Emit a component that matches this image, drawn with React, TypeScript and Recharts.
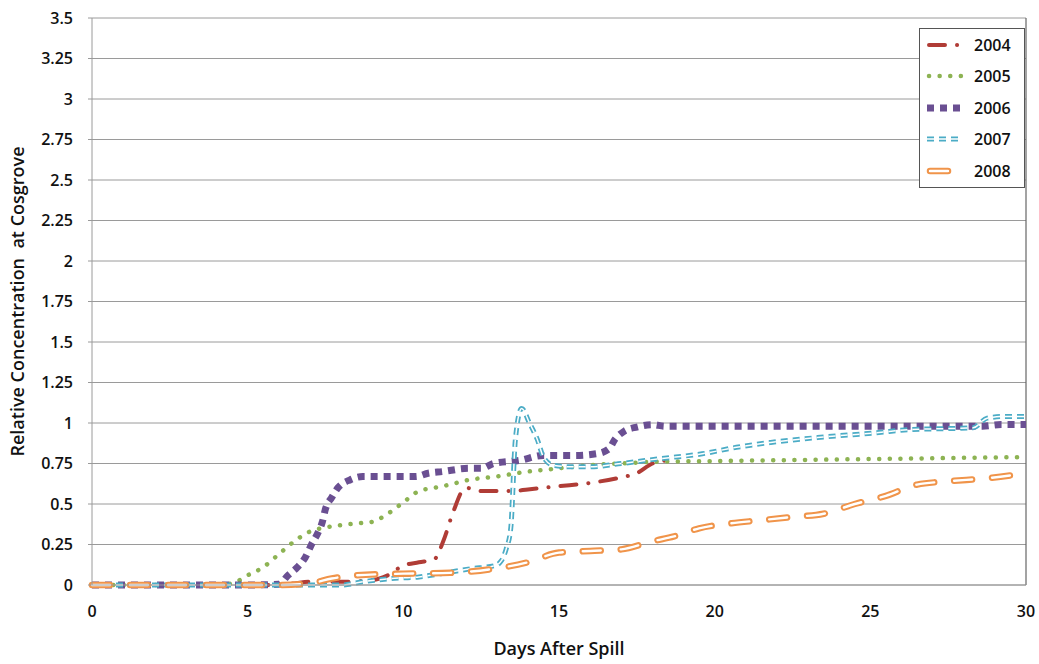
import React from 'react';
import {
    LineChart,
    Line,
    XAxis,
    YAxis,
    CartesianGrid,
    ReferenceLine
} from 'recharts';

// days after spill / relative concentration for each year
const days2004 = [0, 2, 4, 6, 6.5, 7, 8, 9, 9.5, 10, 10.5, 11, 11.3, 11.6, 12, 12.5, 13, 13.5, 14, 15, 16, 17, 17.5, 18, 18.5];
const conc2004 = [0, 0, 0, 0, 0.01, 0.02, 0.02, 0.03, 0.06, 0.12, 0.14, 0.16, 0.28, 0.45, 0.6, 0.58, 0.58, 0.58, 0.59, 0.61, 0.63, 0.665, 0.69, 0.75, 0.77];

const days2005 = [0, 2, 4, 4.5, 5, 5.5, 6, 6.5, 7, 7.5, 8, 8.5, 9, 9.5, 10, 10.5, 11, 11.5, 12, 13, 14, 15, 16, 17, 18, 20, 22, 24, 26, 28, 30];
const conc2005 = [0, 0, 0, 0.01, 0.06, 0.11, 0.19, 0.27, 0.33, 0.355, 0.37, 0.38, 0.39, 0.44, 0.51, 0.58, 0.6, 0.62, 0.645, 0.67, 0.7, 0.72, 0.74, 0.75, 0.76, 0.765, 0.77, 0.775, 0.78, 0.785, 0.79];

const days2006 = [0, 2, 4, 5, 6, 6.3, 6.6, 6.85, 7.05, 7.25, 7.4, 7.5, 7.7, 7.9, 8.3, 8.7, 9.5, 10.4, 10.8, 11.25, 12.1, 12.5, 12.9, 13.75, 14.5, 15.5, 16.2, 16.6, 16.8, 17.1, 17.5, 18, 18.4, 20, 22, 24, 26, 28, 28.6, 29.2, 30];
const conc2006 = [0, 0, 0, 0, 0.005, 0.06, 0.11, 0.17, 0.25, 0.32, 0.39, 0.47, 0.54, 0.6, 0.65, 0.67, 0.67, 0.67, 0.69, 0.7, 0.72, 0.72, 0.75, 0.77, 0.8, 0.8, 0.81, 0.84, 0.9, 0.95, 0.975, 0.99, 0.98, 0.98, 0.98, 0.98, 0.98, 0.98, 0.98, 0.99, 0.99];

const days2007 = [0, 2, 4, 6, 8, 8.7, 9.6, 10.5, 11.2, 12.15, 12.95, 13.15, 13.3, 13.45, 13.6, 13.8, 14.05, 14.3, 14.5, 14.8, 15.35, 16, 17, 18.25, 19.6, 20.7, 21.8, 23.3, 25.2, 26.3, 27.3, 28.3, 28.75, 29.3, 30];
const conc2007 = [0, 0, 0, 0, 0, 0.02, 0.04, 0.05, 0.07, 0.1, 0.12, 0.15, 0.22, 0.35, 0.9, 1.09, 1.0, 0.9, 0.79, 0.74, 0.73, 0.73, 0.75, 0.78, 0.81, 0.85, 0.88, 0.91, 0.94, 0.96, 0.965, 0.97, 1.03, 1.04, 1.04];

const days2008 = [0, 2, 4, 6, 7, 7.7, 8.5, 10, 11.5, 12.9, 14, 15, 16, 17, 18, 18.7, 19.5, 20.5, 21.5, 22.5, 23.5, 24.5, 25.5, 26.5, 27.5, 28.8, 30];
const conc2008 = [0, 0, 0, 0, 0.01, 0.04, 0.06, 0.07, 0.075, 0.1, 0.14, 0.2, 0.21, 0.22, 0.27, 0.3, 0.35, 0.38, 0.4, 0.42, 0.44, 0.5, 0.55, 0.62, 0.64, 0.66, 0.69];

const years = ['2004', '2005', '2006', '2007', '2008'];
const xTicks = [0, 5, 10, 15, 20, 25, 30];
const yTicks = [0, 0.25, 0.5, 0.75, 1, 1.25, 1.5, 1.75, 2, 2.25, 2.5, 2.75, 3, 3.25, 3.5];

const toPoints = (days: number[], conc: number[]) =>
    days.map((d, i) => ({ day: d, value: conc[i] }));

const data2004 = toPoints(days2004, conc2004);
const data2005 = toPoints(days2005, conc2005);
const data2006 = toPoints(days2006, conc2006);
const data2007 = toPoints(days2007, conc2007);
const data2008 = toPoints(days2008, conc2008);

const RED = '#b03c36';
const GREEN = '#8db353';
const PURPLE = '#6a4f92';
const CYAN = '#4bacc6';
const ORANGE = '#f0944a';

const FONT = '"Open Sans", "Noto Sans", sans-serif';
const TEXT = '#111';

if (typeof document !== 'undefined') {
    document.body.style.margin = '0';
}

// small sample strokes for the legend box
const LegendSample = ({ year }: { year: string }) => {
    const common = { x1: 4, y1: 8, x2: 40, y2: 8, fill: 'none' } as any;
    let inner: React.ReactNode = null;
    if (year === '2004') {
        inner = <line {...common} x1={6} stroke={RED} strokeWidth={4} strokeLinecap="round" strokeDasharray="16 12 0.1 12" />;
    } else if (year === '2005') {
        inner = <line {...common} x1={6} stroke={GREEN} strokeWidth={4.5} strokeLinecap="round" strokeDasharray="0.1 10.5" />;
    } else if (year === '2006') {
        inner = <line {...common} stroke={PURPLE} strokeWidth={7} strokeDasharray="7 6" />;
    } else if (year === '2007') {
        inner = (
            <>
                <line {...common} stroke={CYAN} strokeWidth={5} strokeDasharray="7 5" />
                <line {...common} stroke="#fff" strokeWidth={1.5} strokeDasharray="7 5" />
            </>
        );
    } else {
        inner = (
            <>
                <line {...common} x1={7} x2={25} stroke={ORANGE} strokeWidth={6.5} strokeLinecap="round" />
                <line {...common} x1={7} x2={25} stroke="#fff" strokeWidth={2.4} strokeLinecap="round" />
            </>
        );
    }
    return (
        <svg width={44} height={16} style={{ display: 'block' }}>
            {inner}
        </svg>
    );
};

const ChartLegend = () => (
    <div
        style={{
            position: 'absolute',
            left: 919,
            top: 28,
            border: '1px solid #555',
            background: '#fff',
            width: 106,
            height: 160,
            boxSizing: 'border-box',
            padding: '0 0 0 3px',
            fontFamily: FONT,
            fontWeight: 600,
            fontSize: 16,
            color: TEXT
        }}
    >
        {years.map(year => (
            <div key={year} style={{ display: 'flex', alignItems: 'center', height: 31.5 }}>
                <LegendSample year={year} />
                <span style={{ marginLeft: 7 }}>{year}</span>
            </div>
        ))}
    </div>
);

export default function App() {
    const lineProps = {
        type: 'monotone' as const,
        dataKey: 'value',
        dot: false,
        activeDot: false,
        isAnimationActive: false
    };

    const tickStyle = { fill: TEXT, fontSize: 16, fontWeight: 600, fontFamily: FONT };
    const labelStyle = { fill: TEXT, fontSize: 18, fontWeight: 600, fontFamily: FONT };

    return (
        <div style={{ position: 'relative', width: 1039, height: 664, background: '#fff', fontFamily: FONT }}>
            <LineChart width={1039} height={664} margin={{ top: 18, right: 13, bottom: 0, left: 0 }}>
                <CartesianGrid horizontal vertical={false} stroke="#9a9a9a" strokeWidth={1} />
                <XAxis
                    dataKey="day"
                    type="number"
                    domain={[0, 30]}
                    ticks={xTicks}
                    allowDuplicatedCategory={false}
                    height={79}
                    stroke="#9a9a9a"
                    tickSize={0}
                    tickMargin={21}
                    tick={tickStyle}
                    label={{
                        value: 'Days After Spill',
                        position: 'insideBottom',
                        offset: 9,
                        style: labelStyle
                    }}
                />
                <YAxis
                    type="number"
                    domain={[0, 3.5]}
                    ticks={yTicks}
                    width={92}
                    stroke="#9a9a9a"
                    tickSize={4}
                    tickMargin={15}
                    tick={tickStyle}
                    label={{
                        value: 'Relative Concentration\u00a0\u00a0at Cosgrove',
                        angle: -90,
                        position: 'insideLeft',
                        offset: 18,
                        style: { ...labelStyle, textAnchor: 'middle' }
                    }}
                />
                <ReferenceLine x={30} stroke="#666" strokeWidth={1.2} />

                <Line {...lineProps} data={data2004} name="2004" stroke={RED} strokeWidth={4} strokeLinecap="round" strokeDasharray="16 12 0.1 12" />
                <Line {...lineProps} data={data2005} name="2005" stroke={GREEN} strokeWidth={4.5} strokeLinecap="round" strokeDasharray="0.1 10.5" />
                <Line {...lineProps} data={data2006} name="2006" stroke={PURPLE} strokeWidth={7} strokeDasharray="7 6" />
                <Line {...lineProps} data={data2007} name="2007" stroke={CYAN} strokeWidth={5} strokeDasharray="7 5" />
                <Line {...lineProps} data={data2007} name="2007 inner" legendType="none" stroke="#fff" strokeWidth={1.5} strokeDasharray="7 5" />
                <Line {...lineProps} data={data2008} name="2008" stroke={ORANGE} strokeWidth={6.5} strokeLinecap="round" strokeDasharray="18 20" />
                <Line {...lineProps} data={data2008} name="2008 inner" legendType="none" stroke="#fff" strokeWidth={2.4} strokeLinecap="round" strokeDasharray="18 20" />
            </LineChart>
            <ChartLegend />
        </div>
    );
}
